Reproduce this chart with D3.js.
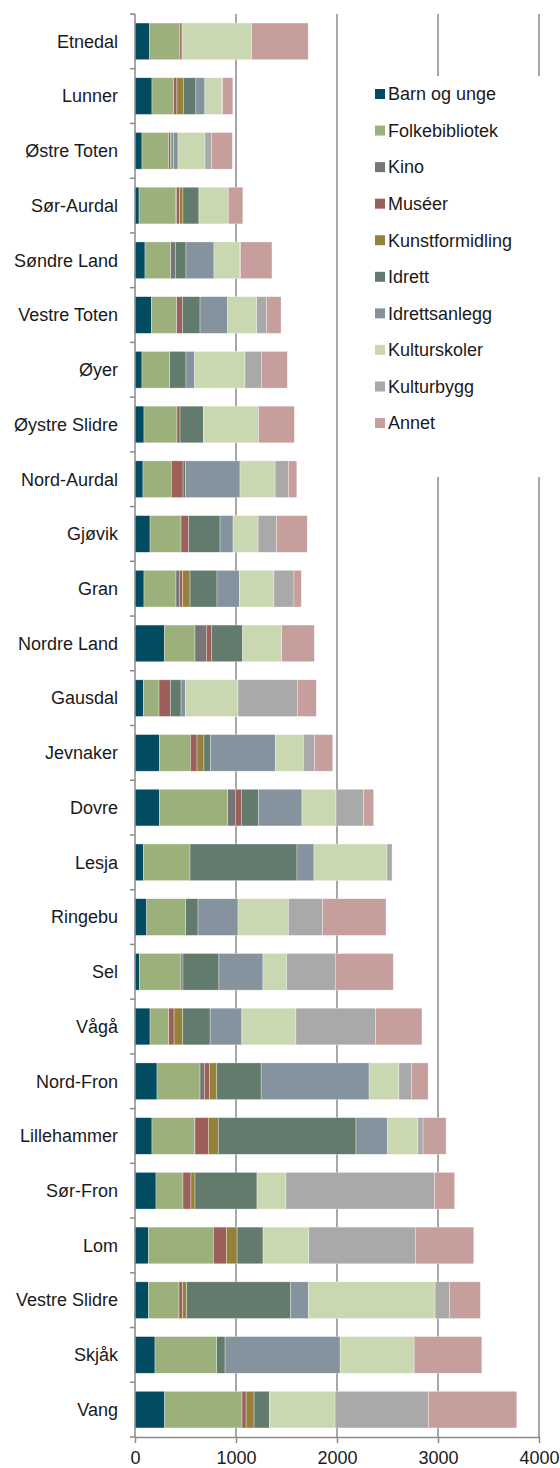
<!DOCTYPE html>
<html>
<head>
<meta charset="utf-8">
<script src="https://cdn.jsdelivr.net/npm/d3@7"></script>
<style>
  body { margin: 0; background: #fff; }
  text { font-family: "Liberation Sans", Arial, sans-serif; fill: #1a1a1a; }
</style>
</head>
<body>
<svg id="chart" width="560" height="1468"></svg>
<script>
// kommuner, top to bottom
const kommuner = ["Etnedal", "Lunner", "Østre Toten", "Sør-Aurdal", "Søndre Land", "Vestre Toten",
  "Øyer", "Øystre Slidre", "Nord-Aurdal", "Gjøvik", "Gran", "Nordre Land", "Gausdal", "Jevnaker",
  "Dovre", "Lesja", "Ringebu", "Sel", "Vågå", "Nord-Fron", "Lillehammer", "Sør-Fron", "Lom",
  "Vestre Slidre", "Skjåk", "Vang"];

const kategorier = ["Barn og unge", "Folkebibliotek", "Kino", "Muséer", "Kunstformidling",
  "Idrett", "Idrettsanlegg", "Kulturskoler", "Kulturbygg", "Annet"];

const barnOgUnge     = [145,168,69,40,99,162,69,89,79,149,89,290,83,241,241,83,116,43,149,218,168,208,132,132,198,294];
const folkebibliotek = [300,214,264,360,254,251,274,327,281,307,317,304,155,307,677,462,386,412,185,426,419,267,644,304,611,766];
const kino           = [0,0,0,10,46,0,0,0,0,0,33,112,0,0,76,0,0,20,0,43,7,0,0,0,0,0];
const museer         = [20,33,18,30,0,56,0,30,116,76,33,50,112,66,59,0,0,0,53,50,132,79,129,36,0,40];
const kunstformidling= [0,63,15,35,0,0,0,0,0,0,73,0,0,69,0,0,0,0,86,73,99,40,106,40,0,79];
const idrett         = [0,125,15,158,106,175,162,231,26,310,267,310,106,63,168,1059,122,356,271,439,1363,614,257,1030,83,152];
const idrettsanlegg  = [0,89,45,0,277,274,86,0,538,129,221,0,43,644,432,168,396,436,314,1069,314,0,0,175,1139,0];
const kulturskoler   = [690,168,267,290,257,287,498,545,347,248,343,386,521,277,337,723,498,234,535,294,300,287,452,1254,733,650];
const kulturbygg     = [0,7,63,0,7,96,162,0,132,182,198,0,587,109,274,50,340,482,789,125,50,1469,1056,142,0,924];
const annet          = [560,102,208,145,310,145,257,356,83,304,73,323,188,182,99,0,627,574,459,165,228,201,578,307,670,875];

const xTicks = [0, 1000, 2000, 3000, 4000];

const farger = ["#034b60", "#9bb07a", "#767676", "#9c5f59", "#95823a",
  "#627b6d", "#84939d", "#c9d8b1", "#a9a9aa", "#c69e9c"];

function drawChart(){
  let svg = d3.select("#chart"),
  margin = {top: 14, right: 21, bottom: 31, left: 135},
  width = svg.attr("width") - margin.left - margin.right,
  height = svg.attr("height") - margin.top - margin.bottom;

  let series = [barnOgUnge, folkebibliotek, kino, museer, kunstformidling,
    idrett, idrettsanlegg, kulturskoler, kulturbygg, annet];

  // build rows for d3.stack
  let rows = kommuner.map((k, i) => {
    let row = {name: k};
    kategorier.forEach((c, j) => { row[c] = series[j][i]; });
    return row;
  });
  let stacked = d3.stack().keys(kategorier)(rows);

  let x = d3.scaleLinear().domain([0, 4000]).range([0, width]);
  let y = d3.scaleBand().domain(kommuner).range([0, height])
            .paddingInner(0.33).paddingOuter(0.165);
  let color = d3.scaleOrdinal().domain(kategorier).range(farger);

  let g = svg.append("g")
             .attr("transform", "translate(" + margin.left + "," + margin.top + ")");

  // vertical gridlines
  g.selectAll(".grid")
   .data(xTicks.slice(1))
   .enter().append("line")
   .attr("class", "grid")
   .attr("x1", d => x(d)).attr("x2", d => x(d))
   .attr("y1", 0).attr("y2", height)
   .attr("stroke", "#8a8a8a")
   .attr("stroke-width", 1.5);

  // stacked bars
  let layer = g.selectAll(".layer")
      .data(stacked)
      .enter().append("g")
      .attr("class", "layer")
      .attr("fill", d => color(d.key));

  layer.selectAll("rect")
      .data(d => d.filter(s => s[1] - s[0] > 0))
      .enter().append("rect")
      .attr("x", d => x(d[0]))
      .attr("y", d => y(d.data.name))
      .attr("width", d => x(d[1]) - x(d[0]))
      .attr("height", y.bandwidth())
      .attr("stroke", "#ffffff")
      .attr("stroke-opacity", 0.55)
      .attr("stroke-width", 0.6);

  // legend with white box over the gridlines
  let legend = g.append("g")
                .attr("transform", "translate(" + (375 - margin.left) + "," + (94 - margin.top) + ")");
  legend.append("rect")
        .attr("x", -30).attr("y", -18)
        .attr("width", 210).attr("height", 401)
        .attr("fill", "#fff");
  let item = legend.selectAll(".legend")
        .data(kategorier)
        .enter().append("g")
        .attr("class", "legend")
        .attr("transform", (d, i) => "translate(0," + i * 36.56 + ")");
  item.append("rect")
      .attr("x", 0).attr("y", -5)
      .attr("width", 10).attr("height", 10)
      .attr("fill", d => color(d));
  item.append("text")
      .attr("x", 13)
      .attr("dy", "0.35em")
      .style("font-size", "18px")
      .text(d => d);

  // y axis: line, tick marks between bands, labels
  let step = y.step();
  let yAxis = g.append("g").attr("class", "axis axis--y");
  yAxis.append("line")
       .attr("x1", 0).attr("x2", 0).attr("y1", 0).attr("y2", height)
       .attr("stroke", "#8a8a8a").attr("stroke-width", 1.5);
  yAxis.selectAll(".ytick")
       .data(d3.range(kommuner.length + 1))
       .enter().append("line")
       .attr("x1", -5).attr("x2", 0)
       .attr("y1", i => i * step).attr("y2", i => i * step)
       .attr("stroke", "#8a8a8a").attr("stroke-width", 1.5);
  yAxis.selectAll(".ylabel")
       .data(kommuner)
       .enter().append("text")
       .attr("x", -17)
       .attr("y", d => y(d) + y.bandwidth() / 2)
       .attr("dy", "0.35em")
       .attr("text-anchor", "end")
       .style("font-size", "18px")
       .text(d => d);

  // x axis at the bottom
  let xAxis = g.append("g")
     .attr("class", "axis axis--x")
     .attr("transform", "translate(0," + height + ")")
     .call(d3.axisBottom(x).tickValues(xTicks).tickFormat(d3.format("d"))
             .tickSize(6).tickSizeOuter(0).tickPadding(8));
  xAxis.select(".domain").attr("stroke", "#8a8a8a").attr("stroke-width", 1.5);
  xAxis.selectAll(".tick line").attr("stroke", "#8a8a8a").attr("stroke-width", 1.5);
  xAxis.selectAll(".tick text")
       .style("font-size", "18px")
       .style("font-family", "'Liberation Sans', Arial, sans-serif")
       .attr("fill", "#1a1a1a");
}

drawChart();
</script>
</body>
</html>
